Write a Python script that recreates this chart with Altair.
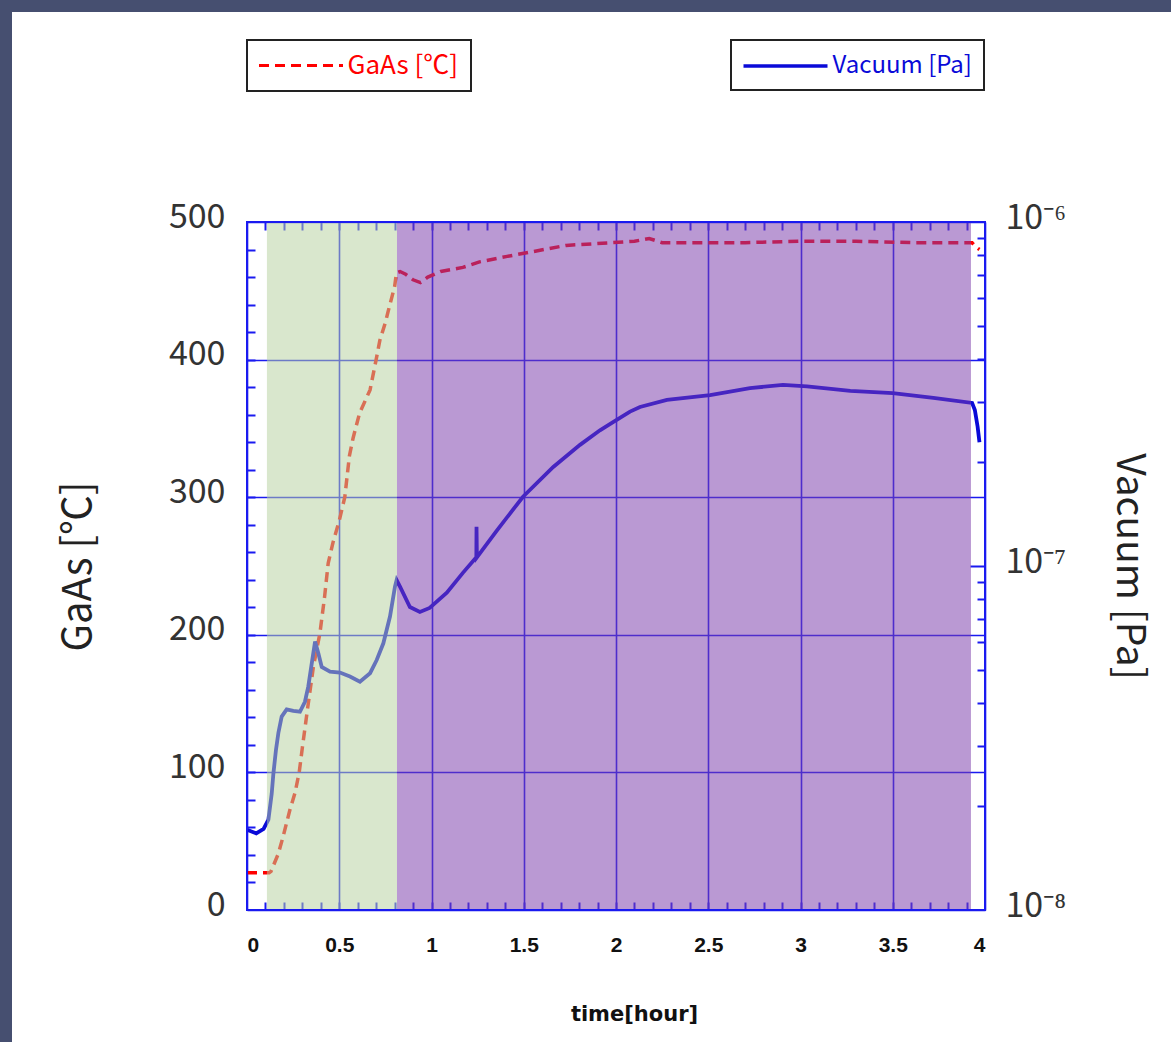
import altair as alt
import pandas as pd

# ---------------- data ----------------
temp_t = [0.0, 0.06, 0.12, 0.13, 0.17, 0.195, 0.233, 0.26, 0.283, 0.30,
          0.33, 0.36, 0.395, 0.42, 0.44, 0.466, 0.50, 0.53, 0.555, 0.575,
          0.61, 0.667, 0.70, 0.72, 0.75, 0.765, 0.80, 0.81, 0.83, 0.86,
          0.90, 0.94, 0.98, 1.05, 1.17, 1.26, 1.41, 1.53, 1.73, 1.98,
          2.10, 2.18, 2.25, 2.40, 2.70, 3.00, 3.30, 3.60, 3.93, 3.95, 3.97]
temp_c = [27, 27, 27, 28, 41, 53, 73, 85, 100, 118,
          148, 177, 201, 227, 252, 267, 283, 300, 330, 343,
          361, 378, 400, 414, 427, 435, 453, 463, 464, 462,
          458, 456, 460, 464, 467, 471, 475, 478, 483, 485,
          486, 488, 485, 485, 485, 486, 486, 485, 485, 482, 480]

vac_t = [0.0, 0.05, 0.09, 0.116, 0.134, 0.143, 0.157, 0.170, 0.188, 0.215,
         0.251, 0.287, 0.314, 0.332, 0.351, 0.369, 0.387, 0.405, 0.45, 0.504,
         0.558, 0.612, 0.667, 0.703, 0.739, 0.775, 0.802, 0.811, 0.83, 0.883,
         0.937, 0.99, 1.083, 1.17, 1.243, 1.244, 1.246, 1.355, 1.496, 1.66,
         1.805, 1.913, 1.984, 2.076, 2.13, 2.276, 2.51, 2.726, 2.905, 3.035,
         3.27, 3.50, 3.72, 3.93, 3.945, 3.96, 3.97]
vac_pa = [1.71e-8, 1.67e-8, 1.72e-8, 1.83e-8, 2.18e-8, 2.49e-8, 2.92e-8, 3.27e-8, 3.65e-8, 3.83e-8,
          3.79e-8, 3.77e-8, 4.03e-8, 4.46e-8, 5.21e-8, 6.03e-8, 5.57e-8, 5.09e-8, 4.93e-8, 4.90e-8,
          4.77e-8, 4.61e-8, 4.88e-8, 5.33e-8, 5.96e-8, 7.13e-8, 8.71e-8, 9.10e-8, 8.69e-8, 7.60e-8,
          7.35e-8, 7.55e-8, 8.36e-8, 9.55e-8, 1.06e-7, 1.30e-7, 1.06e-7, 1.27e-7, 1.59e-7, 1.94e-7,
          2.25e-7, 2.48e-7, 2.62e-7, 2.81e-7, 2.90e-7, 3.04e-7, 3.14e-7, 3.29e-7, 3.36e-7, 3.33e-7,
          3.23e-7, 3.18e-7, 3.08e-7, 2.98e-7, 2.84e-7, 2.54e-7, 2.29e-7]

phase_name = ["ramp", "bake"]
phase_start = [0.108, 0.813]
phase_end = [0.813, 3.924]

x_labels = [0, 0.5, 1, 1.5, 2, 2.5, 3, 3.5, 4]
x_minor = [round(i * 0.1, 1) for i in range(1, 40)]
y_labels = [0, 100, 200, 300, 400, 500]
y_minor = list(range(20, 500, 20))
vac_labels = [1e-8, 1e-7, 1e-6]
vac_minor = [k * 1e-8 for k in range(2, 10)] + [1e-7] + [k * 1e-7 for k in range(2, 10)]

# ---------------- styling ----------------
W, H = 738, 688
BLUE = "#1a1af0"
RED = "#ff0000"
VBLUE = "#0a0ad8"
FONT = "Noto Sans CJK JP"

temp_df = pd.DataFrame({"t": temp_t, "c": temp_c, "s": ["GaAs [℃]"] * len(temp_t)})
vac_df = pd.DataFrame({"t": vac_t, "p": vac_pa, "s": ["Vacuum [Pa]"] * len(vac_t)})
phase_df = pd.DataFrame({"phase": phase_name, "start": phase_start, "end": phase_end})

xscale = alt.Scale(domain=[0, 4], nice=False, zero=False)
tscale = alt.Scale(domain=[0, 500], nice=False)
vscale = alt.Scale(type="log", domain=[1e-8, 1e-6], nice=False)

temp_line = alt.Chart(temp_df).mark_line(strokeWidth=3.5, strokeDash=[10, 6]).encode(
    x=alt.X("t:Q", scale=xscale, axis=alt.Axis(
        orient="bottom", values=x_labels, format="~g", grid=True, gridColor=BLUE, gridWidth=1.6,
        ticks=False, tickSize=0, domain=False, labelFont="Liberation Sans", labelFontSize=21,
        labelFontWeight="bold", labelColor="#111", labelPadding=24,
        title="time[hour]", titleFont="DejaVu Sans", titleFontSize=21, titleFontWeight="bold",
        titleColor="#111", titleX=387, titleY=104, titleBaseline="middle")),
    y=alt.Y("c:Q", scale=tscale, axis=alt.Axis(
        orient="left", values=y_labels, format="d", grid=True, gridColor=BLUE, gridWidth=1.6,
        ticks=False, tickSize=0, domain=False, labelFont=FONT, labelFontSize=34,
        labelColor="#333", labelPadding=22, labelOffset=-5,
        title="GaAs [℃]", titleFont=FONT, titleFontSize=40, titleFontWeight="normal",
        titleColor="#222", titleX=-169, titleY=344, titleAngle=-90, titleBaseline="middle",
        titleAlign="center")),
    color=alt.Color("s:N", scale=alt.Scale(domain=["GaAs [℃]"], range=[RED]), legend=alt.Legend(
        title=None, orient="none", legendX=0, legendY=-182,
        symbolType="M-3.5,0H3.5", symbolSize=576, symbolStrokeWidth=3, symbolOffset=28.5,
        symbolDash=[10, 6], labelOffset=33, labelFont=FONT, labelFontSize=26,
        labelColor=RED, padding=12, strokeColor="#222")),
)

vac_line = alt.Chart(vac_df).mark_line(strokeWidth=3.8).encode(
    x=alt.X("t:Q", scale=xscale, axis=None),
    y=alt.Y("p:Q", scale=vscale, axis=alt.Axis(
        orient="right", values=vac_labels, grid=False, ticks=False, tickSize=0, domain=False,
        labelExpr="datum.value > 5e-7 ? '10⁻⁶' : datum.value > 5e-8 ? '10⁻⁷' : '10⁻⁸'",
        labelFont=FONT, labelFontSize=34, labelColor="#333", labelPadding=20, labelOffset=-4,
        title="Vacuum [Pa]", titleFont=FONT, titleFontSize=39, titleFontWeight="normal",
        titleColor="#222", titleX=143, titleY=344, titleAngle=90, titleBaseline="middle",
        titleAlign="center")),
    color=alt.Color("s:N", scale=alt.Scale(domain=["Vacuum [Pa]"], range=[VBLUE]), legend=alt.Legend(
        title=None, orient="none", legendX=484, legendY=-182,
        symbolType="M-3.5,0H3.5", symbolSize=576, symbolStrokeWidth=3.5, symbolOffset=28.5,
        labelOffset=33, labelFont=FONT, labelFontSize=24,
        labelColor=VBLUE, padding=12, strokeColor="#222")),
)

# inward ticks (axes moved onto the opposite edge)
ticks_a = alt.Chart(temp_df).mark_point(opacity=0).encode(
    x=alt.X("t:Q", scale=xscale, axis=alt.Axis(
        orient="bottom", offset=-H, values=x_minor, labels=False, domain=False, grid=False,
        tickSize=8, tickWidth=2, tickColor=BLUE, title=None)),
    y=alt.Y("c:Q", scale=tscale, axis=alt.Axis(
        orient="right", offset=-W, values=y_minor, labels=False, domain=False, grid=False,
        tickSize=8, tickWidth=2, tickColor=BLUE, title=None)),
)
ticks_b = alt.Chart(vac_df).mark_point(opacity=0).encode(
    x=alt.X("t:Q", scale=xscale, axis=alt.Axis(
        orient="top", offset=-H, values=x_minor, labels=False, domain=False, grid=False,
        tickSize=8, tickWidth=2, tickColor=BLUE, title=None)),
    y=alt.Y("p:Q", scale=vscale, axis=alt.Axis(
        orient="left", offset=-W, values=vac_minor, labels=False, domain=False, grid=False,
        tickSize={"condition": {"test": "datum.value > 9.5e-8 && datum.value < 1.05e-7", "value": 15}, "value": 8},
        tickWidth=2, tickColor=BLUE, title=None)),
)

shade = alt.Chart(phase_df).mark_rect(opacity=0.53).encode(
    x=alt.X("start:Q", scale=xscale, axis=None),
    x2="end:Q",
    fill=alt.Fill("phase:N", scale=alt.Scale(domain=phase_name, range=["#b7d1a1", "#7d3eab"]), legend=None),
)

frame = alt.Chart(alt.Data(values=[{}])).mark_rect(filled=False, stroke=BLUE, strokeWidth=2).encode(
    x=alt.value(0), x2=alt.value("width"), y=alt.value(0), y2=alt.value("height")
)

strip = alt.Chart(alt.Data(values=[{}])).mark_rect(color="#464f70", clip=False)
left_strip = strip.encode(x=alt.value(-247), x2=alt.value(-235), y=alt.value(-222), y2=alt.value(820))
top_strip = strip.encode(x=alt.value(-247), x2=alt.value(924), y=alt.value(-222), y2=alt.value(-210))

chart = alt.layer(
    left_strip, top_strip, temp_line, vac_line, ticks_a, ticks_b, shade, frame
).resolve_scale(
    y="independent", color="independent"
).resolve_axis(
    x="independent", y="independent"
).resolve_legend(
    color="independent"
).properties(
    width=W, height=H,
    autosize=alt.AutoSizeParams(type="none"),
    padding={"left": 247, "top": 222, "right": 186, "bottom": 132},
    background="white",
).configure_view(stroke=None).configure_legend(strokeWidth=2)

chart.save("out.html", embed_options={"renderer": "svg", "actions": False})
